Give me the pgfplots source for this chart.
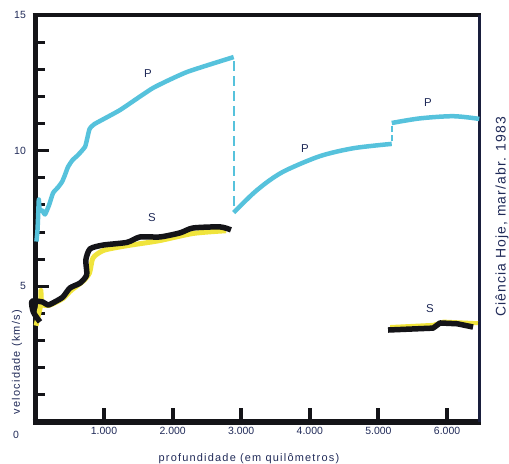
\documentclass[border=0pt]{standalone}
\usepackage{pgfplots}
\pgfplotsset{compat=1.18}
\usepackage{fontspec}
\setmainfont{Liberation Sans}
\definecolor{pwave}{RGB}{86,194,220}
\definecolor{syel}{RGB}{240,228,60}
\definecolor{ink}{RGB}{32,42,88}
\definecolor{spine}{RGB}{20,20,24}
\definecolor{rspine}{RGB}{25,30,60}

\begin{document}
\begin{tikzpicture}
\begin{axis}[
  scale only axis, width=443.9bp, height=407bp,
  xmin=0, xmax=6470, ymin=0, ymax=15,
  axis line style={draw=none},
  clip=false,
  tick align=inside,
  xtick pos=bottom, ytick pos=left,
  xtick={1000,2000,3000,4000,5000,6000},
  xticklabels={1.000,2.000,3.000,4.000,5.000,6.000},
  ytick={5,10,15}, yticklabels={5,10,15},
  minor ytick={1,2,3,4,6,7,8,9,11,12,13,14},
  major tick length=14bp, minor tick length=10bp,
  tick style={spine, line width=3bp},
  major x tick style={line width=4bp},
  xticklabel style={font=\fontsize{10.5}{12}\selectfont, text=ink, yshift=-1.3bp},
  yticklabel style={font=\fontsize{10.5}{12}\selectfont, text=ink, xshift=-6bp},
  xlabel={profundidade (em quilômetros)},
  ylabel={velocidade (km/s)},
  every axis x label/.style={at={(axis description cs:0.481,-0.0909)}, anchor=center,
    font=\fontsize{11}{13}\selectfont\addfontfeature{LetterSpace=11}, text=ink},
  every axis y label/.style={at={(axis description cs:-0.0415,0.147)}, anchor=center, rotate=90,
    font=\fontsize{11}{13}\selectfont\addfontfeature{LetterSpace=11}, text=ink},
]
% frame
\draw[spine, line width=5bp] (rel axis cs:0,-0.006) -- (rel axis cs:0,1.005);
\draw[spine, line width=5.5bp] (rel axis cs:-0.006,0) -- (rel axis cs:1.003,0);
\draw[spine, line width=4.5bp] (rel axis cs:-0.006,1) -- (rel axis cs:1.003,1);
\draw[rspine, line width=2.5bp] (rel axis cs:1,0) -- (rel axis cs:1,1);

% P waves
\addplot[pwave, line width=4.5bp, line join=round, smooth, tension=0.3] coordinates {
  (15,6.65)(30,7.05)(40,7.6)(50,8.2)(62,7.8)(100,7.8)(140,7.65)(200,8.0)(257,8.44)
  (330,8.65)(388,8.85)(430,9.1)(475,9.4)(540,9.65)(621,9.84)(723,10.14)(760,10.5)
  (790,10.8)(860,10.98)(1235,11.5)(1714,12.31)(2210,12.9)(2890,13.45)};
\addplot[pwave, line width=2bp, dash pattern=on 10bp off 5bp] coordinates {(2890,13.3)(2890,7.85)};
\addplot[pwave, line width=4.5bp, smooth, tension=0.5] coordinates {
  (2890,7.72)(3177,8.43)(3420,8.92)(3663,9.29)(4149,9.80)(4635,10.09)(5194,10.25)};
\addplot[pwave, line width=2bp, dash pattern=on 6bp off 3bp] coordinates {(5194,10.35)(5194,10.95)};
\addplot[pwave, line width=4.5bp, smooth, tension=0.5] coordinates {
  (5194,11.02)(5606,11.19)(6092,11.27)(6470,11.17)};

% S waves
\addplot[syel, line width=5bp, line join=round, smooth, tension=0.4] coordinates {
  (10,3.55)(40,3.9)(75,4.3)(80,4.85)(95,4.35)(200,4.3)(400,4.55)(520,4.85)(700,5.2)
  (790,5.5)(840,6.05)(1000,6.33)(1340,6.5)(1800,6.68)(2300,6.95)(2780,7.05)};
\addplot[spine, line width=5.5bp, line join=round, smooth, tension=0.4] coordinates {
  (67,3.69)(-30,4.05)(-50,4.45)(110,4.42)(185,4.31)(300,4.45)(402,4.61)(504,4.94)
  (650,5.12)(748,5.42)(735,5.97)(796,6.38)(985,6.52)(1335,6.62)(1525,6.82)(1816,6.82)
  (2108,6.97)(2297,7.15)(2691,7.19)(2850,7.08)};
\addplot[syel, line width=4bp] coordinates {(5170,3.5)(5800,3.58)(5950,3.7)(6450,3.64)};
\addplot[spine, line width=5.5bp, line join=round] coordinates {
  (5140,3.39)(5796,3.46)(5898,3.65)(6150,3.62)(6379,3.50)};

% labels
\node[text=ink, font=\fontsize{11.5}{13}\selectfont] at (axis cs:1642,12.86) {P};
\node[text=ink, font=\fontsize{11.5}{13}\selectfont] at (axis cs:1700,7.52) {S};
\node[text=ink, font=\fontsize{11.5}{13}\selectfont] at (axis cs:3930,10.06) {P};
\node[text=ink, font=\fontsize{11.5}{13}\selectfont] at (axis cs:5722,11.76) {P};
\node[text=ink, font=\fontsize{11.5}{13}\selectfont] at (axis cs:5752,4.17) {S};
\node[text=ink, font=\fontsize{10.5}{12}\selectfont] at (rel axis cs:0,0) [xshift=-19.4bp, yshift=-13bp] {0};
\node[text=ink, rotate=90, font=\fontsize{14}{16}\selectfont\addfontfeature{LetterSpace=8}]
  at (axis cs:6801,7.56) {Ciência Hoje, mar/abr. 1983};
\end{axis}
\pgfresetboundingbox
\path ([xshift=-35.4bp,yshift=-42bp]current axis.south west)
  rectangle ([xshift=29.7bp,yshift=15bp]current axis.north east);
\end{tikzpicture}
\end{document}
